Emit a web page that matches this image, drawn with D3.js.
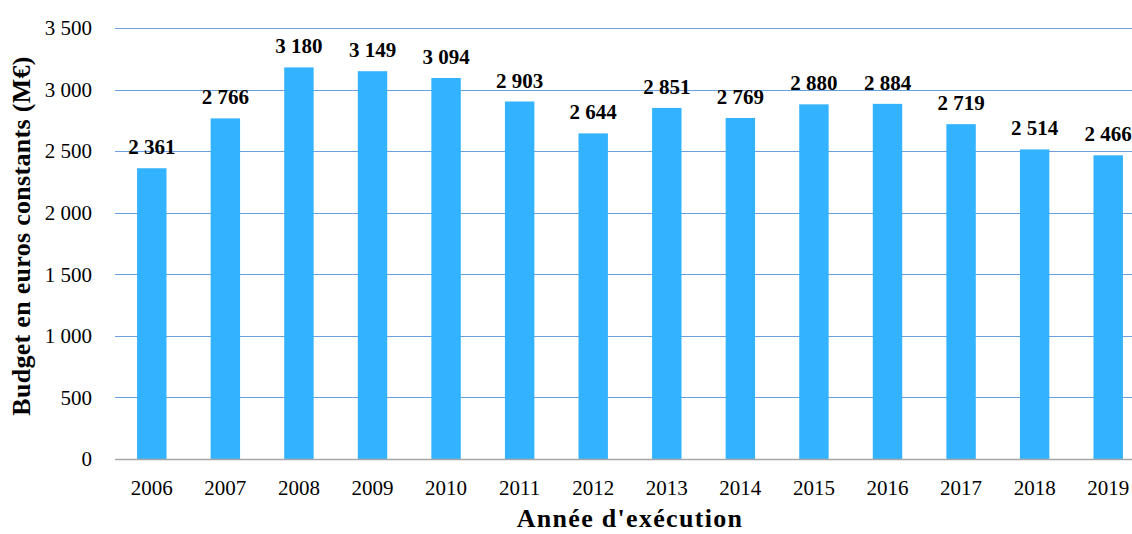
<!DOCTYPE html>
<html>
<head>
<meta charset="utf-8">
<script src="https://cdn.jsdelivr.net/npm/d3@7"></script>
<style>
  html, body { margin: 0; padding: 0; background: #fff; }
  svg text { font-family: "Liberation Serif", "DejaVu Serif", serif; fill: #000; }
</style>
</head>
<body>
<svg id="chart" width="1132" height="534"></svg>
<script>
// Budget exécuté par année, en millions d'euros constants
const years = ["2006", "2007", "2008", "2009", "2010", "2011", "2012", "2013", "2014", "2015", "2016", "2017", "2018", "2019"];
const budget = [2361, 2766, 3180, 3149, 3094, 2903, 2644, 2851, 2769, 2880, 2884, 2719, 2514, 2466];
const yTicks = [0, 500, 1000, 1500, 2000, 2500, 3000, 3500];
const xTitle = "Année d'exécution";
const yTitle = "Budget en euros constants (M€)";

const fr = d3.formatLocale({ decimal: ",", thousands: "\u00a0", grouping: [3], currency: ["", " €"] });
const fmt = fr.format(",d");

const svg = d3.select("#chart");
const plotLeft = 115, plotRight = 1145, plotTop = 28, plotBottom = 459;

const x = d3.scaleBand().domain(years).range([plotLeft, plotRight]).paddingInner(0.6).paddingOuter(0.3);
const y = d3.scaleLinear().domain([0, 3500]).range([plotBottom, plotTop]);

// Horizontal grid lines
svg.append("g")
  .selectAll("line")
  .data(yTicks.filter(d => d > 0))
  .join("line")
  .attr("x1", plotLeft).attr("x2", 1132)
  .attr("y1", d => Math.round(y(d)) + 0.5).attr("y2", d => Math.round(y(d)) + 0.5)
  .attr("stroke", "#6a9fe0").attr("stroke-width", 1);

// Bars
svg.append("g")
  .selectAll("rect")
  .data(years)
  .join("rect")
  .attr("x", d => x(d))
  .attr("width", x.bandwidth())
  .attr("y", (d, i) => y(budget[i]))
  .attr("height", (d, i) => y(0) - y(budget[i]))
  .attr("fill", "#33b3ff");

// Baseline
svg.append("line")
  .attr("x1", plotLeft).attr("x2", 1132)
  .attr("y1", Math.round(y(0)) + 0.5).attr("y2", Math.round(y(0)) + 0.5)
  .attr("stroke", "#a6a6a6").attr("stroke-width", 1.5);

// Y tick labels
const yAxis = d3.axisLeft(y).tickValues(yTicks).tickFormat(fmt).tickSize(0).tickPadding(0);
const gy = svg.append("g").attr("transform", "translate(92,0)").call(yAxis);
gy.select(".domain").remove();
gy.selectAll("text").attr("font-size", 21).attr("font-family", "Liberation Serif").attr("fill", "#000");

// X tick labels
const xAxis = d3.axisBottom(x).tickSize(0).tickPadding(0);
const gx = svg.append("g").attr("transform", "translate(0,480)").call(xAxis);
gx.select(".domain").remove();
gx.selectAll("text").attr("font-size", 21).attr("font-family", "Liberation Serif").attr("fill", "#000");

// Value labels above bars
svg.append("g")
  .selectAll("text")
  .data(years)
  .join("text")
  .attr("x", d => x(d) + x.bandwidth() / 2)
  .attr("y", (d, i) => y(budget[i]) - 14)
  .attr("text-anchor", "middle")
  .attr("font-size", 21)
  .attr("font-weight", "bold")
  .text((d, i) => fmt(budget[i]));

// Axis titles
svg.append("text")
  .attr("x", 630).attr("y", 527)
  .attr("text-anchor", "middle")
  .attr("font-size", 26).attr("font-weight", "bold")
  .attr("letter-spacing", 1.3)
  .text(xTitle);

svg.append("text")
  .attr("transform", "translate(30,236) rotate(-90)")
  .attr("text-anchor", "middle")
  .attr("font-size", 26).attr("font-weight", "bold")
  .attr("letter-spacing", 0.3)
  .text(yTitle);
</script>
</body>
</html>
